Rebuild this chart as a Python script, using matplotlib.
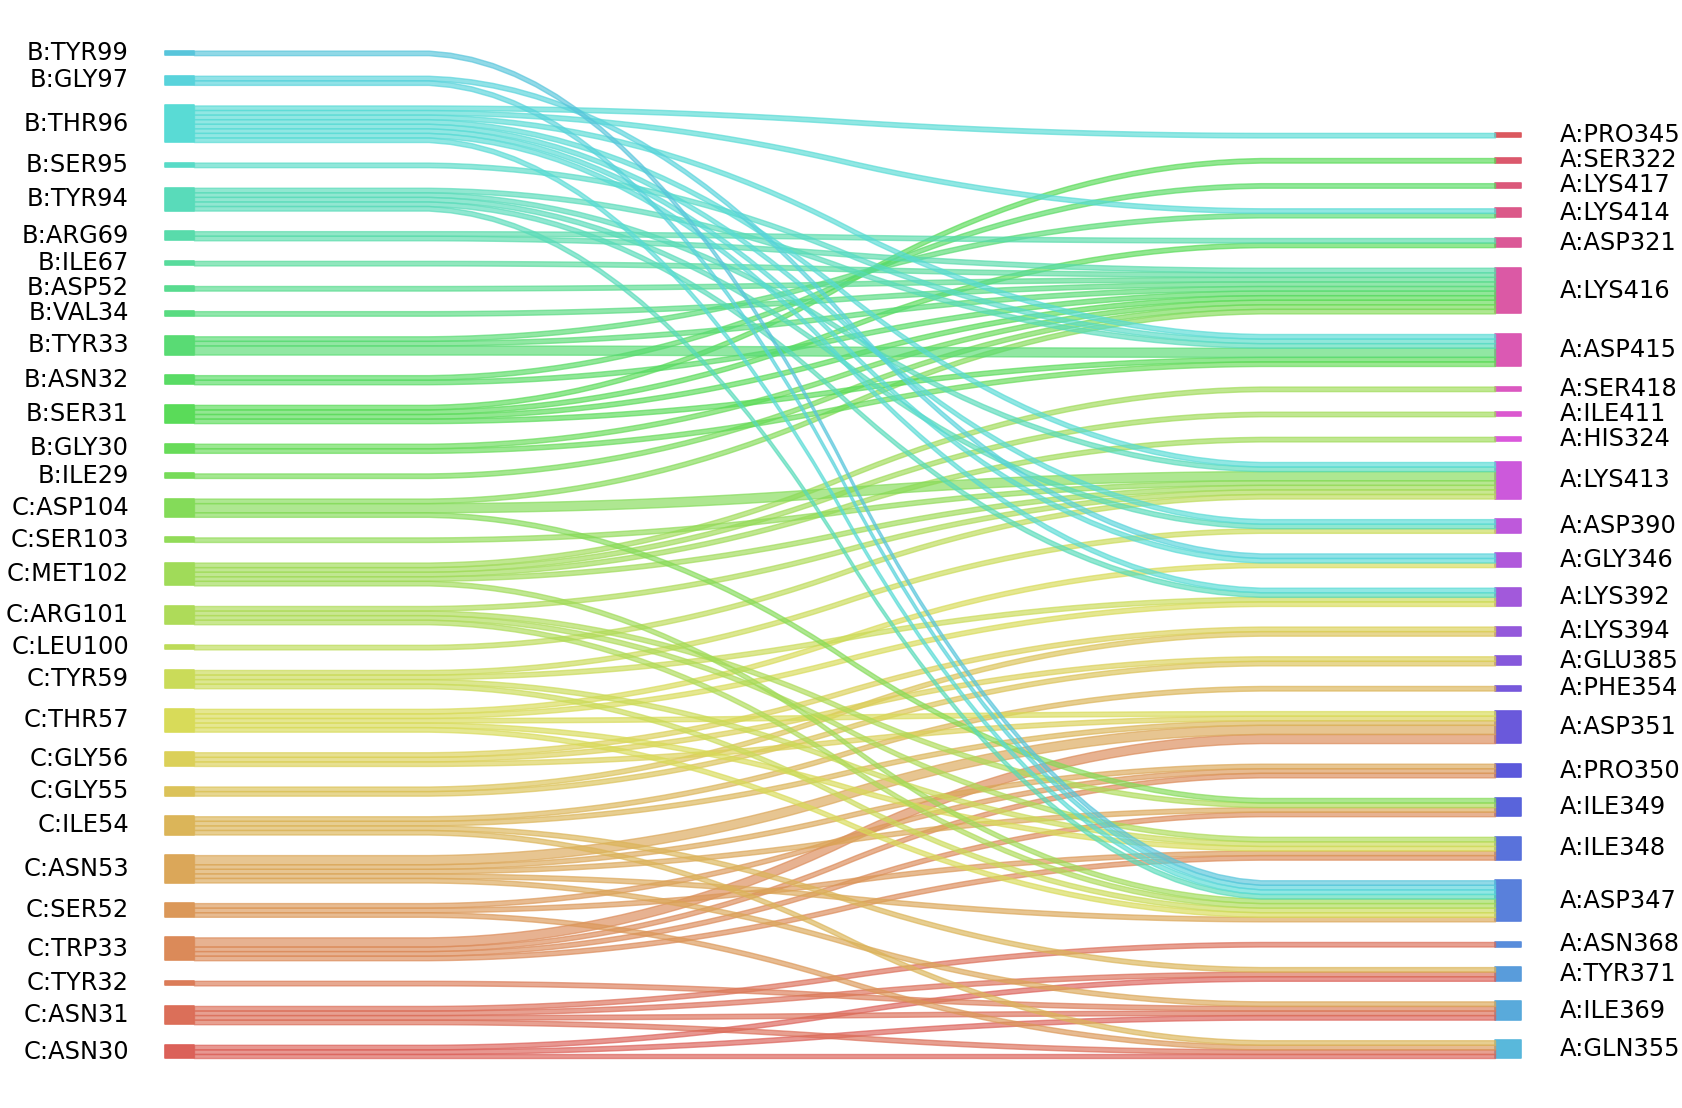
import numpy as np
import pandas as pd
import matplotlib
matplotlib.use("Agg")
import matplotlib.pyplot as plt
import seaborn as sns

# residues as drawn, bottom -> top
left_labels = ['C:ASN30', 'C:ASN31', 'C:TYR32', 'C:TRP33', 'C:SER52', 'C:ASN53', 'C:ILE54',
               'C:GLY55', 'C:GLY56', 'C:THR57', 'C:TYR59', 'C:LEU100', 'C:ARG101', 'C:MET102',
               'C:SER103', 'C:ASP104', 'B:ILE29', 'B:GLY30', 'B:SER31', 'B:ASN32', 'B:TYR33',
               'B:VAL34', 'B:ASP52', 'B:ILE67', 'B:ARG69', 'B:TYR94', 'B:SER95', 'B:THR96',
               'B:GLY97', 'B:TYR99']
right_labels = ['A:GLN355', 'A:ILE369', 'A:TYR371', 'A:ASN368', 'A:ASP347', 'A:ILE348',
                'A:ILE349', 'A:PRO350', 'A:ASP351', 'A:PHE354', 'A:GLU385', 'A:LYS394',
                'A:LYS392', 'A:GLY346', 'A:ASP390', 'A:LYS413', 'A:HIS324', 'A:ILE411',
                'A:SER418', 'A:ASP415', 'A:LYS416', 'A:ASP321', 'A:LYS414', 'A:LYS417',
                'A:SER322', 'A:PRO345']

# one entry per contact (left residue -> right residue)
contact_left = [
    'C:ASN30', 'C:ASN30', 'C:ASN30',
    'C:ASN31', 'C:ASN31', 'C:ASN31', 'C:ASN31',
    'C:TYR32',
    'C:TRP33', 'C:TRP33', 'C:TRP33', 'C:TRP33', 'C:TRP33',
    'C:SER52', 'C:SER52', 'C:SER52',
    'C:ASN53', 'C:ASN53', 'C:ASN53', 'C:ASN53', 'C:ASN53', 'C:ASN53',
    'C:ILE54', 'C:ILE54', 'C:ILE54', 'C:ILE54',
    'C:GLY55', 'C:GLY55',
    'C:GLY56', 'C:GLY56', 'C:GLY56',
    'C:THR57', 'C:THR57', 'C:THR57', 'C:THR57', 'C:THR57',
    'C:TYR59', 'C:TYR59', 'C:TYR59', 'C:TYR59',
    'C:LEU100',
    'C:ARG101', 'C:ARG101', 'C:ARG101', 'C:ARG101',
    'C:MET102', 'C:MET102', 'C:MET102', 'C:MET102', 'C:MET102',
    'C:SER103',
    'C:ASP104', 'C:ASP104', 'C:ASP104', 'C:ASP104',
    'B:ILE29',
    'B:GLY30', 'B:GLY30',
    'B:SER31', 'B:SER31', 'B:SER31', 'B:SER31',
    'B:ASN32', 'B:ASN32',
    'B:TYR33', 'B:TYR33', 'B:TYR33', 'B:TYR33',
    'B:VAL34',
    'B:ASP52',
    'B:ILE67',
    'B:ARG69', 'B:ARG69',
    'B:TYR94', 'B:TYR94', 'B:TYR94', 'B:TYR94', 'B:TYR94',
    'B:SER95',
    'B:THR96', 'B:THR96', 'B:THR96', 'B:THR96', 'B:THR96', 'B:THR96', 'B:THR96', 'B:THR96',
    'B:GLY97', 'B:GLY97',
    'B:TYR99',
]
contact_right = [
    'A:GLN355', 'A:ILE369', 'A:TYR371',
    'A:GLN355', 'A:ILE369', 'A:TYR371', 'A:ASN368',
    'A:ILE369',
    'A:ASP351', 'A:ASP351', 'A:PRO350', 'A:ILE349', 'A:ILE348',
    'A:PRO350', 'A:ILE348', 'A:GLN355',
    'A:ASP351', 'A:ASP351', 'A:PRO350', 'A:ILE349', 'A:ASP347', 'A:ILE369',
    'A:PHE354', 'A:ASP351', 'A:GLN355', 'A:TYR371',
    'A:LYS394', 'A:GLU385',
    'A:LYS394', 'A:GLU385', 'A:ASP351',
    'A:GLY346', 'A:LYS392', 'A:ILE348', 'A:ASP347', 'A:ASP351',
    'A:ASP390', 'A:LYS392', 'A:ILE348', 'A:ASP347',
    'A:LYS413',
    'A:LYS413', 'A:ILE349', 'A:ILE348', 'A:ASP347',
    'A:LYS413', 'A:HIS324', 'A:ILE411', 'A:SER418', 'A:ASP347',
    'A:LYS413',
    'A:LYS416', 'A:LYS413', 'A:LYS413', 'A:ILE349',
    'A:LYS416',
    'A:LYS416', 'A:ASP415',
    'A:LYS416', 'A:ASP415', 'A:ASP321', 'A:SER322',
    'A:LYS416', 'A:LYS417',
    'A:ASP415', 'A:ASP415', 'A:LYS416', 'A:LYS414',
    'A:LYS416',
    'A:LYS416',
    'A:LYS416',
    'A:ASP321', 'A:LYS416',
    'A:ASP415', 'A:LYS413', 'A:ASP390', 'A:LYS392', 'A:ASP347',
    'A:ASP415',
    'A:PRO345', 'A:LYS414', 'A:ASP415', 'A:LYS413', 'A:ASP390', 'A:GLY346', 'A:LYS392', 'A:ASP347',
    'A:ASP347', 'A:GLY346',
    'A:ASP347',
]

df = pd.DataFrame({'left': contact_left, 'right': contact_right})
counts = df.groupby(['left', 'right']).size()

palette = sns.color_palette('hls', len(left_labels) + len(right_labels))
colors = dict(zip(left_labels + right_labels, palette))

total = len(df)
gap = 0.05 * total

# stacked node extents
def stack(labels, col):
    pos = {}
    b = 0.0
    for lab in labels:
        h = (df[col] == lab).sum()
        pos[lab] = [b, b + h]
        b += h + gap
    return pos

lpos = stack(left_labels, 'left')
rpos = stack(right_labels, 'right')

fig = plt.figure(figsize=(16.82, 11.08), dpi=100)
ax = fig.add_axes([0, 0, 1, 1])
ax.set_xlim(-194 / 1301, (1682 - 194) / 1301)
ax.set_ylim(-49.5 / 4.571, (1108 - 49.5) / 4.571)
ax.axis('off')

fs = 17.4
for lab in left_labels:
    b, t = lpos[lab]
    ax.fill_between([-0.022, 0], [b, b], [t, t], color=colors[lab], alpha=0.99, lw=1.2)
    ax.text(-0.05, (b + t) / 2, lab, ha='right', va='center', fontsize=fs)
for lab in right_labels:
    b, t = rpos[lab]
    ax.fill_between([1, 1.02], [b, b], [t, t], color=colors[lab], alpha=0.99, lw=1.2)
    ax.text(1.05, (b + t) / 2, lab, ha='left', va='center', fontsize=fs)

# strips (pySankey-like smoothing)
lbot = {k: v[0] for k, v in lpos.items()}
rbot = {k: v[0] for k, v in rpos.items()}
kern = 0.05 * np.ones(20)
for ll in left_labels:
    for rl in right_labels:
        if (ll, rl) not in counts.index:
            continue
        w = counts[(ll, rl)]
        yd = np.array(50 * [lbot[ll]] + 50 * [rbot[rl]])
        yu = np.array(50 * [lbot[ll] + w] + 50 * [rbot[rl] + w])
        yd = np.convolve(np.convolve(yd, kern, mode='valid'), kern, mode='valid')
        yu = np.convolve(np.convolve(yu, kern, mode='valid'), kern, mode='valid')
        lbot[ll] += w
        rbot[rl] += w
        ax.fill_between(np.linspace(0, 1, len(yd)), yd, yu, color=colors[ll], alpha=0.65, lw=1.0)

fig.savefig('out.png', dpi=100)
